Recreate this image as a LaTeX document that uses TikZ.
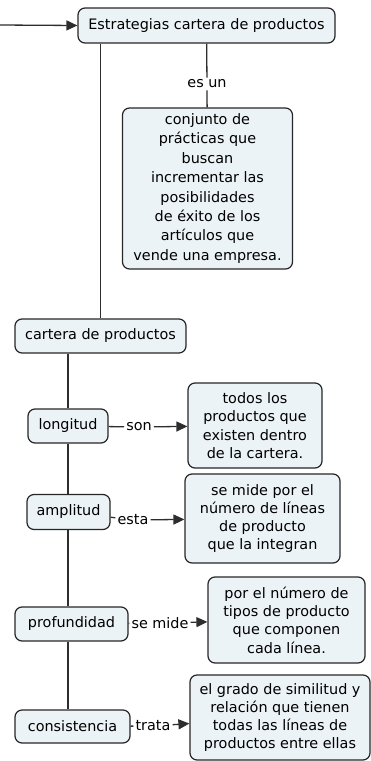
\documentclass[tikz,border=0pt]{standalone}
\usepackage{fontspec}
\setmainfont{DejaVu Sans}
\usetikzlibrary{arrows.meta}

\definecolor{conceptfill}{RGB}{236,243,246}
\definecolor{linkgray}{RGB}{45,45,45}

\begin{document}
\begin{tikzpicture}[x=1pt, y=-1pt,
    concept/.style={draw=black!85, fill=conceptfill, rounded corners=7pt, line width=1.2pt,
        align=center, inner sep=2pt, font=\fontsize{14.4}{18.3}\selectfont},
    linkword/.style={inner sep=2pt, font=\fontsize{14.4}{16}\selectfont},
    link/.style={draw=linkgray, line width=1.3pt},
    tip/.style={-{Triangle[length=11pt,width=10pt]}}]

    \useasboundingbox (0,0) rectangle (371,761);

    % Concepts
    \node[concept, minimum width=257pt, minimum height=35pt] (estrategias) at (206.5,25.5)
        {Estrategias cartera de productos};
    \node[concept, minimum width=170pt, minimum height=161pt, font=\fontsize{14.4}{19.4}\selectfont] (conjunto) at (207.5,188.5)
        {conjunto de\\prácticas que\\buscan\\incrementar las\\posibilidades\\de éxito de los\\artículos que\\vende una empresa.};
    \node[concept, minimum width=171pt, minimum height=34pt] (cartera) at (100.5,336)
        {cartera de productos};

    \node[concept, minimum width=80pt, minimum height=34pt] (longitud) at (68,426) {longitud};
    \node[concept, minimum width=83pt, minimum height=35pt] (amplitud) at (68.5,512) {amplitud};
    \node[concept, minimum width=113pt, minimum height=34pt] (profundidad) at (71.5,624) {profundidad};
    \node[concept, minimum width=115pt, minimum height=33pt] (consistencia) at (72.5,726.5) {consistencia};

    \node[concept, minimum width=134pt, minimum height=85pt] (todos) at (255,425.5)
        {todos los\\productos que\\existen dentro\\de la cartera.};
    \node[concept, minimum width=155pt, minimum height=89pt] (mide) at (262.5,518.5)
        {se mide por el\\número de líneas\\de producto\\que la integran};
    \node[concept, minimum width=157pt, minimum height=86pt] (porel) at (286.5,620)
        {por el número de\\tipos de producto\\que componen\\cada línea.};
    \node[concept, minimum width=180pt, minimum height=85pt] (grado) at (280,717.5)
        {el grado de similitud y\\relación que tienen\\todas las líneas de\\productos entre ellas};

    % Linking words
    \node[linkword] (esun) at (207,84) {es un};
    \node[linkword] (son) at (139,427) {son};
    \node[linkword] (esta) at (133,520) {esta};
    \node[linkword] (semide) at (160,623) {se mide};
    \node[linkword] (trata) at (153,726) {trata};

    % Connectors
    \coordinate (entrada) at (0,25);
    \draw[link, tip] (entrada) -- (estrategias.west);
    \draw[link] (estrategias) -- (esun) -- (conjunto);
    \draw[link] (estrategias.south -| cartera.north) -- (cartera.north);
    \draw[link] (cartera.south -| longitud.north) -- (longitud.north);
    \draw[link] (longitud.south) -- (amplitud.north -| longitud.south);
    \draw[link] (amplitud.south -| longitud.south) -- (profundidad.north -| longitud.south);
    \draw[link] (profundidad.south -| longitud.south) -- (consistencia.north -| longitud.south);

    \draw[link] (longitud) -- (son);
    \draw[link, tip] (son) -- (todos);
    \draw[link] (amplitud) -- (esta);
    \draw[link, tip] (esta) -- (mide);
    \draw[link] (profundidad) -- (semide);
    \draw[link, tip] (semide) -- (porel);
    \draw[link] (consistencia) -- (trata);
    \draw[link, tip] (trata) -- (grado);
\end{tikzpicture}
\end{document}
